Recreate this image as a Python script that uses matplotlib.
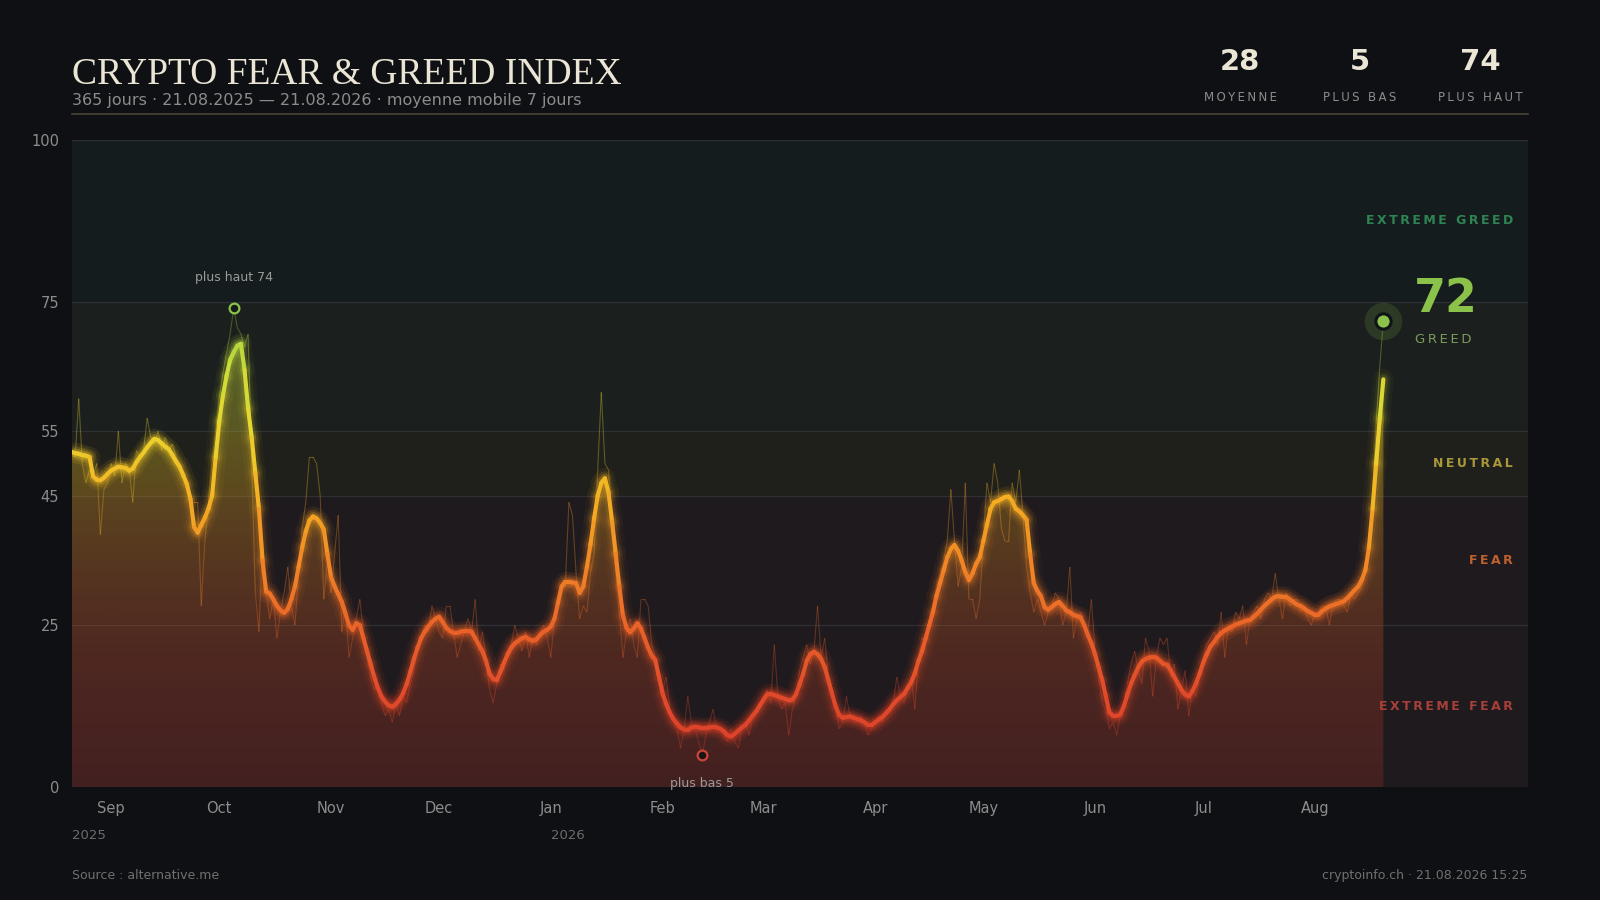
import numpy as np
import pandas as pd
import matplotlib
matplotlib.use('Agg')
import matplotlib.pyplot as plt
import matplotlib.dates as mdates
import matplotlib.transforms as mtransforms
from matplotlib.collections import LineCollection
from matplotlib.colors import LinearSegmentedColormap
from matplotlib.lines import Line2D

# valeurs journalieres (21.08.2025 -> 365 jours)
start_day = '2025-08-21'
raw = [
    52, 51, 60, 50, 47, 49, 48, 50, 39, 46,
    47, 50, 48, 55, 47, 50, 49, 44, 52, 51,
    52, 57, 54, 53, 55, 52, 54, 52, 53, 51,
    50, 48, 46, 44, 44, 44, 28, 38, 44, 50,
    55, 60, 64, 67, 70, 74, 71, 70, 68, 70,
    50, 30, 24, 38, 30, 26, 29, 23, 27, 30,
    34, 28, 25, 33, 40, 44, 51, 51, 50, 45,
    29, 35, 30, 36, 42, 24, 28, 20, 23, 26,
    29, 24, 20, 17, 15, 16, 13, 11, 12, 10,
    13, 11, 14, 13, 16, 18, 21, 23, 25, 24,
    28, 26, 24, 23, 28, 28, 24, 20, 22, 24,
    26, 24, 29, 21, 24, 20, 15, 13, 16, 19,
    18, 21, 22, 25, 23, 21, 24, 20, 23, 22,
    24, 25, 23, 20, 26, 30, 31, 31, 44, 42,
    33, 26, 28, 27, 33, 36, 49, 61, 50, 49,
    40, 33, 27, 20, 24, 26, 22, 20, 29, 29,
    28, 22, 20, 17, 15, 17, 12, 10, 9, 6,
    9, 14, 10, 9, 7, 5, 8, 10, 12, 9,
    9, 8, 7, 9, 7, 6, 9, 10, 8, 11,
    12, 13, 13, 15, 13, 22, 14, 12, 13, 8,
    12, 14, 18, 20, 22, 19, 21, 28, 20, 23,
    17, 14, 13, 9, 10, 14, 11, 10, 10, 11,
    10, 8, 9, 10, 11, 10, 12, 12, 13, 17,
    14, 13, 15, 17, 12, 20, 23, 22, 26, 28,
    31, 33, 35, 38, 46, 38, 31, 34, 47, 29,
    29, 26, 29, 38, 47, 44, 50, 47, 40, 38,
    38, 47, 44, 49, 42, 34, 30, 27, 29, 27,
    25, 27, 28, 30, 29, 25, 27, 34, 23, 26,
    27, 25, 24, 29, 21, 17, 13, 12, 9, 10,
    8, 11, 13, 16, 19, 21, 18, 16, 23, 21,
    14, 20, 23, 22, 23, 17, 19, 12, 15, 18,
    11, 15, 14, 17, 20, 22, 23, 24, 22, 27,
    20, 25, 24, 27, 26, 28, 22, 26, 27, 28,
    26, 29, 30, 29, 33, 29, 26, 30, 28, 29,
    29, 27, 28, 26, 25, 27, 27, 28, 28, 25,
    28, 29, 29, 28, 27, 30, 29, 30, 31, 33,
    36, 45, 56, 65, 72,
]

# moyenne mobile 7 jours (courbe epaisse)
ma7 = [
    51.8, 51.6, 51.5, 51.3, 51.2, 51.0, 48.0, 47.5, 47.4, 47.8,
    48.4, 48.9, 49.2, 49.5, 49.4, 49.3, 48.9, 49.2, 50.2, 51.0,
    51.7, 52.5, 53.2, 53.8, 53.6, 53.1, 52.6, 52.2, 51.3, 50.3,
    49.5, 48.2, 46.8, 44.5, 40.2, 39.3, 40.5, 41.6, 43.0, 45.0,
    51.0, 56.5, 60.5, 63.5, 66.0, 67.2, 68.2, 68.5, 64.5, 58.5,
    54.0, 48.5, 43.0, 35.0, 30.2, 29.9, 29.0, 28.0, 27.3, 26.9,
    27.5, 29.0, 31.0, 34.0, 37.0, 39.5, 41.2, 41.8, 41.5, 40.8,
    39.8, 36.0, 32.5, 31.0, 29.8, 28.6, 26.8, 25.0, 24.3, 25.3,
    25.0, 23.0, 21.0, 19.0, 17.0, 15.3, 14.0, 13.2, 12.6, 12.4,
    12.8, 13.5, 14.5, 15.9, 17.8, 19.8, 21.5, 23.0, 24.0, 24.8,
    25.5, 26.0, 26.3, 25.5, 24.6, 24.1, 23.8, 23.8, 24.0, 24.1,
    24.1, 24.0, 23.0, 22.0, 21.0, 19.5, 17.5, 16.7, 16.5, 17.8,
    19.2, 20.5, 21.5, 22.2, 22.6, 23.0, 23.2, 22.8, 22.6, 22.8,
    23.5, 24.0, 24.3, 24.8, 26.0, 28.5, 31.0, 31.7, 31.7, 31.6,
    31.5, 30.0, 31.0, 34.0, 37.5, 41.5, 45.0, 47.0, 47.7, 45.5,
    41.0, 36.0, 31.0, 26.5, 24.6, 23.9, 24.5, 25.3, 24.5, 23.0,
    21.5, 20.3, 19.6, 17.0, 14.5, 12.8, 11.5, 10.5, 9.8, 9.2,
    8.9, 8.8, 9.2, 9.3, 9.2, 9.1, 9.1, 9.2, 9.3, 9.2,
    9.0, 8.6, 8.0, 7.8, 8.2, 8.7, 9.2, 9.6, 10.3, 11.0,
    11.7, 12.6, 13.5, 14.3, 14.4, 14.2, 14.0, 13.8, 13.6, 13.4,
    13.5, 14.3, 15.8, 17.5, 19.5, 20.5, 20.9, 20.5, 19.8, 18.5,
    16.5, 14.5, 12.5, 11.1, 10.7, 10.8, 10.9, 10.7, 10.5, 10.3,
    10.0, 9.6, 9.6, 10.0, 10.4, 10.8, 11.4, 12.0, 12.8, 13.4,
    13.9, 14.4, 15.3, 16.2, 17.6, 19.5, 21.0, 23.0, 25.0, 27.0,
    29.5, 31.5, 33.5, 35.5, 36.8, 37.4, 36.5, 35.0, 33.2, 32.0,
    33.0, 34.5, 35.5, 38.0, 40.5, 43.0, 44.0, 44.2, 44.5, 44.8,
    44.9, 44.2, 43.0, 42.6, 42.0, 41.3, 36.0, 31.5, 30.3, 29.5,
    27.8, 27.4, 27.8, 28.3, 28.6, 28.0, 27.3, 27.0, 26.6, 26.4,
    26.2, 25.0, 23.5, 22.2, 20.5, 18.5, 16.5, 14.0, 11.5, 11.0,
    11.0, 11.2, 12.5, 14.3, 16.0, 17.3, 18.5, 19.4, 19.8, 20.0,
    20.1, 20.0, 19.5, 19.0, 18.9, 18.0, 17.0, 16.0, 15.0, 14.3,
    14.0, 14.8, 16.0, 17.5, 19.2, 20.5, 21.7, 22.4, 23.2, 23.8,
    24.2, 24.5, 24.8, 25.1, 25.3, 25.5, 25.7, 25.8, 26.3, 26.8,
    27.4, 28.0, 28.5, 29.0, 29.4, 29.5, 29.4, 29.4, 29.0, 28.6,
    28.2, 28.0, 27.6, 27.2, 26.9, 26.6, 26.6, 27.2, 27.6, 27.9,
    28.1, 28.3, 28.5, 28.7, 29.2, 29.8, 30.4, 31.0, 32.0, 33.5,
    37.0, 43.0, 50.0, 57.0, 63.0,
]

zone_edges = [0, 25, 45, 55, 75, 100]
zone_names = ['EXTREME FEAR', 'FEAR', 'NEUTRAL', 'GREED', 'EXTREME GREED']
zone_text_colors = ['#a8403a', '#c0622e', '#a8983a', '#7c9a5c', '#2f8453']
zone_fills = ['#1f1a1e', '#1e1a1e', '#1f1f1b', '#1b201e', '#141c1e']
y_ticks = [0, 25, 45, 55, 75, 100]
stat_labels = ['MOYENNE', 'PLUS BAS', 'PLUS HAUT']

BG = '#0e1013'
CREAM = '#ebe5d5'
GREY = '#8c8c8c'

dates = pd.date_range(start_day, periods=len(raw), freq='D')
x = mdates.date2num(dates)
raw = np.array(raw, dtype=float)
ma = np.array(ma7, dtype=float)

cmap = LinearSegmentedColormap.from_list('fg', [
    (0.0, '#d8392b'), (0.15, '#e14b2a'), (0.25, '#ea6428'), (0.35, '#f08826'),
    (0.45, '#f4b023'), (0.55, '#ead52e'), (0.65, '#c9dc3a'), (0.75, '#8dc84b'),
    (1.0, '#4caf50')])


def spaced(s):
    return '\u2009'.join(s)


def segments(xv, yv):
    pts = np.column_stack([xv, yv])
    return np.stack([pts[:-1], pts[1:]], axis=1)


fig = plt.figure(figsize=(16, 9), dpi=100, facecolor=BG)
ax = fig.add_axes([0.0447, 0.1256, 0.91, 0.7189])
ax.set_facecolor(BG)

# bandes de zones
for i in range(len(zone_names)):
    ax.axhspan(zone_edges[i], zone_edges[i + 1], color=zone_fills[i], lw=0, zorder=0)
for yv in zone_edges[1:]:
    ax.axhline(yv, color='#2e3033', lw=0.9, zorder=1)

# remplissage en degrade sous la moyenne mobile
yy = np.linspace(0, 100, 500)
grad = cmap(yy / 100)
grad[:, 3] = 0.2 + 0.14 * np.clip(yy / 70, 0, 1)
img = ax.imshow(grad[:, None, :], extent=[x[0], x[-1], 0, 100], origin='lower',
                aspect='auto', interpolation='bilinear', zorder=2)
poly = ax.fill_between(x, ma, 0, facecolor='none', edgecolor='none')
img.set_clip_path(poly.get_paths()[0], transform=ax.transData)

# valeurs brutes
ax.add_collection(LineCollection(segments(x, raw), colors=cmap((raw[:-1] + raw[1:]) / 200),
                                 linewidths=0.8, alpha=0.33, zorder=3))

# moyenne mobile avec halo
seg_ma = segments(x, ma)
c_ma = cmap((ma[:-1] + ma[1:]) / 200)
for lw, a in [(15, 0.04), (10, 0.07), (6.5, 0.13)]:
    ax.add_collection(LineCollection(seg_ma, colors=c_ma, linewidths=lw, alpha=a,
                                     capstyle='round', zorder=4))
ax.add_collection(LineCollection(seg_ma, colors=c_ma, linewidths=3, capstyle='round',
                                 joinstyle='round', zorder=5))

# extremes
i_max = int(np.argmax(raw))
i_min = int(np.argmin(raw))
ax.plot(x[i_max], raw[i_max], 'o', ms=7, mfc='#151b1b', mec='#8bc34a', mew=1.6, zorder=6)
ax.annotate(f'plus haut {raw[i_max]:.0f}', (x[i_max], raw[i_max]), xytext=(0, 22),
            textcoords='offset points', ha='center', va='center', color='#9a9a9a', fontsize=9)
ax.plot(x[i_min], raw[i_min], 'o', ms=7, mfc='#1a1416', mec='#c8453a', mew=1.6, zorder=6)
ax.annotate(f'plus bas {raw[i_min]:.0f}', (x[i_min], raw[i_min]), xytext=(0, -21),
            textcoords='offset points', ha='center', va='center', color='#9a9a9a', fontsize=9)

# valeur actuelle
last = raw[-1]
cur = int(np.searchsorted(zone_edges, last, side='right') - 1)
ax.plot(x[-1], last, 'o', ms=27, color='#8bc34a', alpha=0.16, mew=0, zorder=6)
ax.plot(x[-1], last, 'o', ms=11, mfc='#8bc34a', mec='#101418', mew=2.2, zorder=7)
ax.annotate(f'{last:.0f}', (x[-1], last), xytext=(22, 15.5), textcoords='offset points',
            ha='left', va='center', fontsize=33, fontweight='bold', color='#8bc34a')
ax.annotate(spaced(zone_names[cur]), (x[-1], last), xytext=(22.5, -13.5),
            textcoords='offset points', ha='left', va='center', fontsize=9.5, color='#7c9a5c')

# etiquettes des zones
tr = mtransforms.blended_transform_factory(ax.transAxes, ax.transData)
for i, name in enumerate(zone_names):
    if i == cur:
        continue
    ax.text(0.99, (zone_edges[i] + zone_edges[i + 1]) / 2, spaced(name), transform=tr,
            ha='right', va='center', fontsize=9, fontweight='bold', color=zone_text_colors[i])

# axes
ax.set_xlim(x[0], x[-1] + 40)
ax.set_ylim(0, 100)
ax.set_yticks(y_ticks)
month_starts = pd.date_range('2025-09-01', dates[-1], freq='MS')
ax.set_xticks(mdates.date2num(month_starts))
ax.set_xticklabels([d.strftime('%b') for d in month_starts])
ax.tick_params(axis='both', length=0, colors=GREY, labelsize=10.5)
ax.tick_params(axis='x', pad=10)
ax.tick_params(axis='y', pad=9)
for s in ax.spines.values():
    s.set_visible(False)

tr_year = mtransforms.blended_transform_factory(ax.transData, ax.transAxes)
for d in [dates[0], pd.Timestamp('2026-01-01')]:
    ax.text(mdates.date2num(d), -0.075, str(d.year), transform=tr_year, ha='left',
            va='center', fontsize=9.5, color='#6c6c6c')

# en-tete
fig.text(0.0447, 0.9067, 'CRYPTO FEAR & GREED INDEX', family='Liberation Serif',
         fontsize=27, color=CREAM, ha='left', va='baseline')
fig.text(0.0447, 0.8878, '365 jours · 21.08.2025 — 21.08.2026 · moyenne mobile 7 jours',
         fontsize=11.5, color=GREY, ha='left', va='center')
fig.add_artist(Line2D([0.0447, 0.9547], [0.8728, 0.8728], color='#4a4434', lw=1.2))

stat_values = [np.mean(raw), raw.min(), raw.max()]
for xc, val, lab in zip([0.775, 0.85, 0.925], stat_values, stat_labels):
    fig.text(xc, 0.9311, f'{val:.0f}', fontsize=21, fontweight='bold', color=CREAM,
             ha='center', va='center')
    fig.text(xc, 0.8922, spaced(lab), fontsize=8.5, color=GREY, ha='center', va='center')

# pied de page
fig.text(0.0447, 0.0272, 'Source : alternative.me', fontsize=9, color='#707070',
         ha='left', va='center')
fig.text(0.9547, 0.0272, 'cryptoinfo.ch · 21.08.2026 15:25', fontsize=9, color='#707070',
         ha='right', va='center')

fig.savefig('out.png', dpi=100, facecolor=BG)
